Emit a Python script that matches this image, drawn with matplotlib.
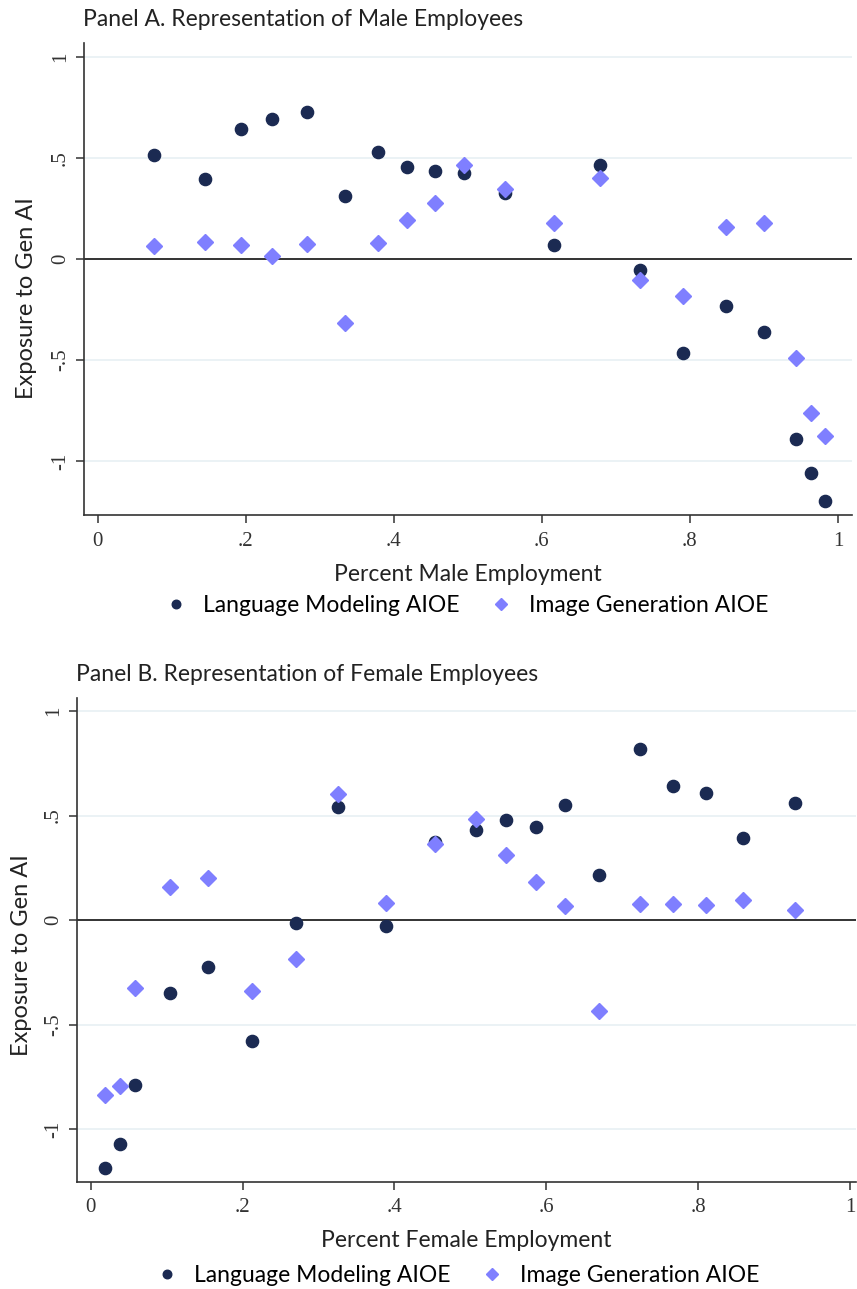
import matplotlib
matplotlib.use('Agg')
import matplotlib.pyplot as plt

# Panel A: share of male employment (x) vs exposure to gen AI (y)
male_share = [0.076, 0.145, 0.194, 0.235, 0.282, 0.334, 0.378, 0.418, 0.455, 0.495,
              0.550, 0.617, 0.678, 0.733, 0.791, 0.849, 0.900, 0.943, 0.964, 0.982]
male_lm = [0.515, 0.399, 0.645, 0.696, 0.729, 0.312, 0.531, 0.454, 0.434, 0.426,
           0.325, 0.071, 0.467, -0.054, -0.467, -0.234, -0.360, -0.891, -1.061, -1.198]
male_ig = [0.066, 0.083, 0.068, 0.015, 0.074, -0.318, 0.078, 0.193, 0.279, 0.467,
           0.348, 0.177, 0.403, -0.101, -0.182, 0.160, 0.178, -0.489, -0.761, -0.878]

# Panel B: share of female employment
female_share = [0.019, 0.038, 0.059, 0.104, 0.155, 0.212, 0.271, 0.326, 0.389, 0.453,
                0.507, 0.547, 0.586, 0.625, 0.669, 0.723, 0.767, 0.810, 0.859, 0.928]
female_lm = [-1.185, -1.069, -0.789, -0.351, -0.226, -0.577, -0.016, 0.542, -0.029, 0.375,
             0.432, 0.480, 0.446, 0.553, 0.214, 0.821, 0.644, 0.608, 0.391, 0.560]
female_ig = [-0.837, -0.796, -0.327, 0.159, 0.202, -0.338, -0.187, 0.603, 0.080, 0.364,
             0.483, 0.310, 0.182, 0.067, -0.434, 0.077, 0.077, 0.073, 0.096, 0.048]

x_ticks = [0, 0.2, 0.4, 0.6, 0.8, 1.0]
x_tick_labels = ['0', '.2', '.4', '.6', '.8', '1']
y_ticks = [-1, -0.5, 0, 0.5, 1]
y_tick_labels = ['-1', '-.5', '0', '.5', '1']

LM_COLOR = '#1b2a52'
IG_COLOR = '#7f7fff'
SANS = 'Lato'
SERIF = 'Liberation Serif'
TXT = 16.5


def draw_panel(ax, x, lm, ig, title, xlabel, xlim, ylim, ylab_pos):
    ax.axhline(0, color='#333333', lw=1.4, zorder=1)
    for yv in y_ticks:
        if yv != 0:
            ax.axhline(yv, color='#e8f0f3', lw=1.2, zorder=0)
    ax.plot(x, lm, 'o', color=LM_COLOR, ms=8.8, zorder=3, label='Language Modeling AIOE')
    ax.plot(x, ig, 'D', color=IG_COLOR, ms=8.3, zorder=4, label='Image Generation AIOE')
    ax.set_xlim(*xlim)
    ax.set_ylim(*ylim)
    ax.spines['top'].set_visible(False)
    ax.spines['right'].set_visible(False)
    for s in ['left', 'bottom']:
        ax.spines[s].set_color('#333333')
        ax.spines[s].set_linewidth(1.2)
    ax.set_xticks(x_ticks)
    ax.set_xticklabels(x_tick_labels, family=SERIF, fontsize=15, color='#333333')
    ax.set_yticks(y_ticks)
    ax.set_yticklabels(y_tick_labels, family=SERIF, fontsize=15, color='#333333',
                       rotation=90, va='center')
    ax.tick_params(axis='both', direction='out', length=6, width=1.1, color='#333333', pad=4)
    ax.tick_params(axis='x', pad=6)
    ax.set_xlabel(xlabel, family=SANS, fontsize=TXT, labelpad=9, color='#222222')
    ax.set_ylabel('Exposure to Gen AI', family=SANS, fontsize=17, color='#222222')
    ax.yaxis.set_label_coords(*ylab_pos)
    ax.set_title(title, family=SANS, fontsize=TXT, loc='left', x=-0.001, pad=12, color='#222222')


fig = plt.figure(figsize=(8.57, 12.89), dpi=100)

ax1 = fig.add_axes([0.0977, 0.6002, 0.8965, 0.3664])
draw_panel(ax1, male_share, male_lm, male_ig,
           'Panel A. Representation of Male Employees', 'Percent Male Employment',
           (-0.019, 1.019), (-1.269, 1.07), (-0.061, 0.46))

ax2 = fig.add_axes([0.0895, 0.0832, 0.9093, 0.3755])
draw_panel(ax2, female_share, female_lm, female_ig,
           'Panel B. Representation of Female Employees', 'Percent Female Employment',
           (-0.0184, 1.008), (-1.252, 1.064), (-0.058, 0.468))

for ax, yc, xc in [(ax1, 1 - 606 / 1289, 465 / 857), (ax2, 1 - 1276 / 1289, 456 / 857)]:
    h, l = ax.get_legend_handles_labels()
    fig.legend(h, l, loc='center', bbox_to_anchor=(xc, yc), ncol=2, frameon=False,
               prop={'family': SANS, 'size': TXT}, markerscale=0.7,
               handletextpad=0.6, columnspacing=1.2, handlelength=1.2)

fig.savefig('out.png', dpi=100)
